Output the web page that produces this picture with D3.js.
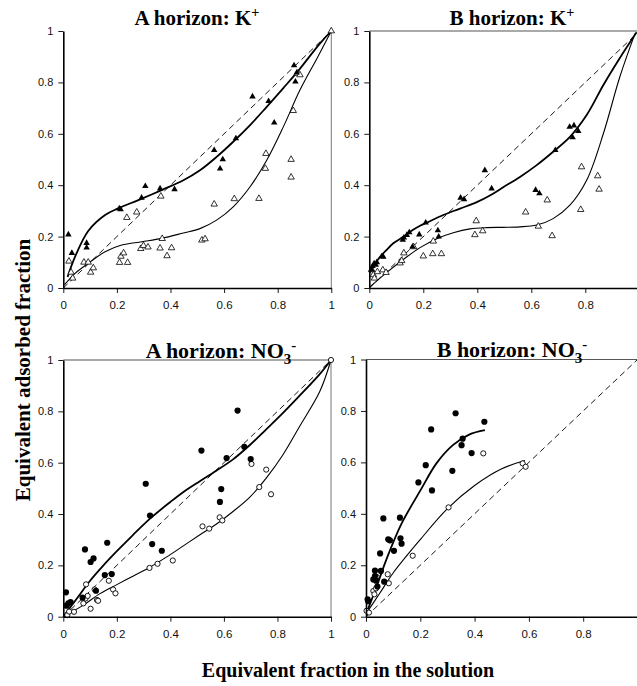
<!DOCTYPE html>
<html>
<head>
<meta charset="utf-8">
<script src="https://cdn.jsdelivr.net/npm/d3@7"></script>
<style>
body { margin: 0; background: #fff; }
svg { display: block; }
</style>
</head>
<body>
<div id="chart"></div>
<script>
// axis ticks
var ticks = [0, 0.2, 0.4, 0.6, 0.8, 1];
var tickLabels = ['0', '0.2', '0.4', '0.6', '0.8', '1'];

// panel titles
var titleText = ['A horizon: K', 'B horizon: K', 'A horizon: NO', 'B horizon: NO'];
var titleSub = ['', '', '3', '3'];
var titleSup = ['+', '+', '-', '-'];

// 1:1 reference line
var oneToOne = [[0, 0], [1, 1]];

// A horizon K+  (x = fraction in solution, y = adsorbed fraction)
var aKFilled = [[0.019,0.208],[0.032,0.136],[0.087,0.175],[0.087,0.157],[0.209,0.309],[0.214,0.306],
  [0.292,0.351],[0.306,0.396],[0.361,0.387],[0.415,0.384],[0.563,0.536],[0.585,0.464],[0.595,0.5],
  [0.644,0.582],[0.706,0.745],[0.766,0.727],[0.787,0.643],[0.861,0.866],[0.866,0.803],[0.871,0.838]];
var aKOpen = [[0.021,0.104],[0.029,0.061],[0.035,0.038],[0.077,0.1],[0.093,0.1],[0.102,0.061],[0.112,0.078],
  [0.21,0.099],[0.215,0.123],[0.225,0.136],[0.24,0.099],[0.237,0.274],[0.274,0.295],[0.289,0.153],
  [0.299,0.165],[0.316,0.159],[0.361,0.155],[0.364,0.357],[0.369,0.192],[0.387,0.125],[0.404,0.156],
  [0.517,0.186],[0.529,0.191],[0.563,0.326],[0.638,0.347],[0.73,0.348],[0.754,0.465],[0.756,0.523],
  [0.85,0.5],[0.85,0.431],[0.858,0.69],[0.874,0.835],[0.883,0.829],[1,1]];
var aKFitFilled = [[0.016,0.043],[0.044,0.122],[0.093,0.222],[0.156,0.284],[0.205,0.31],[0.28,0.342],
  [0.367,0.381],[0.448,0.419],[0.51,0.458],[0.572,0.51],[0.634,0.569],[0.697,0.634],[0.759,0.705],
  [0.821,0.778],[0.871,0.838],[0.958,0.952],[1,1]];
var aKFitOpen = [[0.004,0.012],[0.044,0.057],[0.093,0.096],[0.156,0.141],[0.218,0.167],[0.293,0.18],
  [0.367,0.193],[0.448,0.214],[0.51,0.231],[0.572,0.264],[0.634,0.316],[0.697,0.394],[0.759,0.497],
  [0.821,0.627],[0.883,0.77],[0.95,0.9],[1,1]];

// B horizon K+
var bKFilled = [[0.008,0.072],[0.012,0.085],[0.018,0.095],[0.024,0.09],[0.028,0.1],[0.046,0.123],[0.052,0.121],
  [0.124,0.187],[0.128,0.196],[0.139,0.206],[0.148,0.216],[0.16,0.161],[0.185,0.208],[0.209,0.254],
  [0.254,0.224],[0.257,0.2],[0.338,0.351],[0.351,0.345],[0.428,0.458],[0.453,0.387],[0.616,0.381],
  [0.63,0.368],[0.689,0.536],[0.742,0.627],[0.753,0.586],[0.758,0.632],[0.774,0.61]];
var bKOpen = [[0.009,0.071],[0.015,0.051],[0.019,0.038],[0.03,0.063],[0.05,0.07],[0.062,0.06],[0.114,0.097],
  [0.12,0.106],[0.128,0.136],[0.164,0.16],[0.2,0.124],[0.235,0.133],[0.237,0.182],[0.267,0.133],
  [0.391,0.207],[0.396,0.261],[0.42,0.222],[0.579,0.295],[0.626,0.24],[0.659,0.342],[0.677,0.203],
  [0.783,0.305],[0.786,0.471],[0.846,0.436],[0.851,0.384]];
var bKFitFilled = [[0.003,0.06],[0.033,0.112],[0.064,0.148],[0.089,0.174],[0.126,0.199],[0.151,0.219],
  [0.188,0.242],[0.213,0.254],[0.274,0.284],[0.336,0.309],[0.4,0.335],[0.45,0.362],[0.496,0.392],
  [0.558,0.432],[0.62,0.478],[0.681,0.53],[0.743,0.588],[0.805,0.673],[0.867,0.79],[0.928,0.895],[0.99,0.995]];
var bKFitOpen = [[0.003,0.005],[0.064,0.06],[0.126,0.111],[0.188,0.157],[0.25,0.192],[0.311,0.215],
  [0.373,0.23],[0.435,0.235],[0.496,0.236],[0.558,0.238],[0.62,0.245],[0.681,0.27],[0.743,0.322],
  [0.805,0.419],[0.867,0.601],[0.928,0.822],[0.984,0.99]];

// A horizon NO3-
var aNFilled = [[0.01,0.095],[0.012,0.043],[0.019,0.052],[0.027,0.057],[0.072,0.074],[0.081,0.262],
  [0.102,0.213],[0.113,0.227],[0.122,0.101],[0.155,0.162],[0.164,0.288],[0.181,0.166],[0.308,0.518],
  [0.324,0.394],[0.332,0.283],[0.368,0.257],[0.516,0.647],[0.585,0.447],[0.59,0.497],[0.61,0.618],
  [0.651,0.803],[0.676,0.662],[0.7,0.614]];
var aNOpen = [[0.015,0.006],[0.022,0.02],[0.04,0.019],[0.075,0.052],[0.083,0.071],[0.085,0.126],[0.091,0.081],
  [0.102,0.031],[0.117,0.106],[0.126,0.065],[0.13,0.062],[0.17,0.14],[0.186,0.106],[0.195,0.091],
  [0.322,0.19],[0.352,0.206],[0.409,0.219],[0.52,0.352],[0.545,0.343],[0.584,0.387],[0.594,0.375],
  [0.703,0.595],[0.732,0.505],[0.758,0.573],[0.776,0.477],[1,1]];
var aNFitFilled = [[0,0],[0.05,0.07],[0.1,0.14],[0.15,0.2],[0.2,0.255],[0.26,0.318],[0.324,0.382],
  [0.4,0.447],[0.45,0.487],[0.51,0.528],[0.57,0.568],[0.634,0.613],[0.696,0.668],[0.758,0.73],
  [0.82,0.793],[0.882,0.86],[0.958,0.945],[1,1]];
var aNFitOpen = [[0,0],[0.075,0.045],[0.137,0.09],[0.2,0.125],[0.26,0.158],[0.322,0.192],[0.385,0.232],
  [0.447,0.275],[0.509,0.318],[0.571,0.36],[0.634,0.41],[0.696,0.465],[0.758,0.54],[0.82,0.63],
  [0.882,0.74],[0.958,0.877],[1,1]];

// B horizon NO3-
var bNFilled = [[0.006,0.067],[0.008,0.06],[0.027,0.145],[0.033,0.179],[0.033,0.158],[0.037,0.14],
  [0.042,0.117],[0.052,0.246],[0.055,0.178],[0.064,0.382],[0.067,0.136],[0.082,0.301],[0.088,0.297],
  [0.103,0.256],[0.125,0.385],[0.127,0.305],[0.131,0.284],[0.193,0.522],[0.22,0.589],[0.24,0.728],
  [0.243,0.491],[0.318,0.567],[0.33,0.791],[0.352,0.667],[0.356,0.692],[0.389,0.636],[0.436,0.758]];
var bNOpen = [[0.002,0.023],[0.011,0.016],[0.027,0.1],[0.031,0.087],[0.037,0.11],[0.039,0.155],
  [0.08,0.165],[0.084,0.13],[0.172,0.237],[0.304,0.425],[0.432,0.635],[0.577,0.596],[0.588,0.583]];
var bNFitFilled = [[0.004,0.02],[0.04,0.12],[0.076,0.225],[0.13,0.36],[0.2,0.49],[0.26,0.597],
  [0.32,0.667],[0.38,0.708],[0.438,0.725]];
var bNFitOpen = [[0.002,0.015],[0.05,0.09],[0.1,0.17],[0.2,0.3],[0.3,0.42],[0.4,0.51],[0.5,0.575],
  [0.585,0.607]];

var chart_width = 637;
var chart_height = 686;
var serif = '"Liberation Serif", "Times New Roman", serif';
var sans = '"Liberation Sans", Arial, sans-serif';

var svg = d3.select('#chart')
  .append('svg')
  .attr('width', chart_width)
  .attr('height', chart_height);

// panel layout (pixels)
var panels = [
  { left: 63.3, right: 331.3, top: 31, bottom: 288, topBorder: false, shape: 'tri',
    filled: aKFilled, open: aKOpen, fitF: aKFitFilled, fitO: aKFitOpen, tx: 197, ty: 25, ts: 21 },
  { left: 369.3, right: 639.3, top: 31, bottom: 288, topBorder: true, shape: 'tri',
    filled: bKFilled, open: bKOpen, fitF: bKFitFilled, fitO: bKFitOpen, tx: 512, ty: 25, ts: 21 },
  { left: 63.3, right: 331, top: 360, bottom: 616.7, topBorder: true, shape: 'circle',
    filled: aNFilled, open: aNOpen, fitF: aNFitFilled, fitO: aNFitOpen, tx: 221, ty: 358, ts: 22 },
  { left: 366, right: 637.5, top: 359.5, bottom: 616.7, topBorder: true, shape: 'circle',
    filled: bNFilled, open: bNOpen, fitF: bNFitFilled, fitO: bNFitOpen, tx: 512, ty: 357, ts: 22 }
];

panels.forEach(function (p, i) {
  var x = d3.scaleLinear().domain([0, 1]).range([p.left, p.right]);
  var y = d3.scaleLinear().domain([0, 1]).range([p.bottom, p.top]);
  var g = svg.append('g');

  var line = d3.line()
    .x(function (d) { return x(d[0]); })
    .y(function (d) { return y(d[1]); });
  var smooth = d3.line()
    .x(function (d) { return x(d[0]); })
    .y(function (d) { return y(d[1]); })
    .curve(d3.curveCatmullRom.alpha(0.5));

  // plot area border (top / right)
  if (p.topBorder) {
    g.append('line')
      .attr('x1', x(0)).attr('x2', x(1)).attr('y1', y(1)).attr('y2', y(1))
      .attr('stroke', '#555').attr('stroke-width', 1.2);
  }
  g.append('line')
    .attr('x1', x(1)).attr('x2', x(1)).attr('y1', y(1)).attr('y2', y(0))
    .attr('stroke', '#777').attr('stroke-width', 1);

  // 1:1 line
  g.append('path')
    .datum(oneToOne)
    .attr('d', line)
    .attr('fill', 'none')
    .attr('stroke', '#000')
    .attr('stroke-width', 0.9)
    .attr('stroke-dasharray', '6,4');

  // fitted curves
  g.append('path')
    .datum(p.fitO)
    .attr('d', smooth)
    .attr('fill', 'none')
    .attr('stroke', '#000')
    .attr('stroke-width', 1.1);
  g.append('path')
    .datum(p.fitF)
    .attr('d', smooth)
    .attr('fill', 'none')
    .attr('stroke', '#000')
    .attr('stroke-width', 1.8);

  // markers
  if (p.shape === 'tri') {
    var tri = d3.symbol().type(d3.symbolTriangle).size(18);
    g.selectAll('.open')
      .data(p.open)
      .enter()
      .append('path')
      .attr('d', tri)
      .attr('transform', function (d) { return 'translate(' + x(d[0]) + ',' + y(d[1]) + ')'; })
      .attr('fill', '#fff')
      .attr('stroke', '#000')
      .attr('stroke-width', 0.8);
    g.selectAll('.filled')
      .data(p.filled)
      .enter()
      .append('path')
      .attr('d', tri)
      .attr('transform', function (d) { return 'translate(' + x(d[0]) + ',' + y(d[1]) + ')'; })
      .attr('fill', '#000');
  } else {
    g.selectAll('.open')
      .data(p.open)
      .enter()
      .append('circle')
      .attr('cx', function (d) { return x(d[0]); })
      .attr('cy', function (d) { return y(d[1]); })
      .attr('r', 2.6)
      .attr('fill', '#fff')
      .attr('stroke', '#000')
      .attr('stroke-width', 0.9);
    g.selectAll('.filled')
      .data(p.filled)
      .enter()
      .append('circle')
      .attr('cx', function (d) { return x(d[0]); })
      .attr('cy', function (d) { return y(d[1]); })
      .attr('r', 3.1)
      .attr('fill', '#000');
  }

  // axes
  var xTicks = ticks.filter(function (t) { return x(t) < chart_width - 4; });
  var xAxis = d3.axisBottom(x)
    .tickValues(xTicks)
    .tickFormat(function (d) { return tickLabels[ticks.indexOf(d)]; })
    .tickSize(5)
    .tickSizeOuter(0)
    .tickPadding(8);
  var yAxis = d3.axisLeft(y)
    .tickValues(ticks)
    .tickFormat(function (d) { return tickLabels[ticks.indexOf(d)]; })
    .tickSize(5)
    .tickSizeOuter(0)
    .tickPadding(5);

  var gx = g.append('g')
    .attr('transform', 'translate(0,' + y(0) + ')')
    .call(xAxis);
  var gy = g.append('g')
    .attr('transform', 'translate(' + x(0) + ',0)')
    .call(yAxis);

  [gx, gy].forEach(function (a) {
    a.select('.domain').attr('stroke', '#000').attr('stroke-width', 1.6);
    a.selectAll('.tick line').attr('stroke', '#000').attr('stroke-width', 0.9);
    a.selectAll('.tick text')
      .attr('fill', '#111')
      .style('font-family', sans);
  });
  gx.selectAll('.tick text').style('font-size', '11.5px');
  gy.selectAll('.tick text').style('font-size', '11px');

  // title
  var t = g.append('text')
    .attr('x', p.tx)
    .attr('y', p.ty)
    .attr('text-anchor', 'middle')
    .style('font-family', serif)
    .style('font-weight', 'bold')
    .style('font-size', p.ts + 'px');
  t.append('tspan').text(titleText[i]);
  if (titleSub[i]) {
    t.append('tspan')
      .attr('dy', p.ts * 0.25)
      .style('font-size', (p.ts * 0.68) + 'px')
      .text(titleSub[i]);
    t.append('tspan')
      .attr('dy', -p.ts * 0.62)
      .style('font-size', (p.ts * 0.68) + 'px')
      .text(titleSup[i]);
  } else {
    t.append('tspan')
      .attr('dy', -p.ts * 0.38)
      .style('font-size', (p.ts * 0.68) + 'px')
      .text(titleSup[i]);
  }
});

// shared axis titles
svg.append('text')
  .attr('transform', 'translate(30,370) rotate(-90)')
  .attr('text-anchor', 'middle')
  .style('font-family', serif)
  .style('font-weight', 'bold')
  .style('font-size', '21px')
  .text('Equivalent adsorbed fraction');

svg.append('text')
  .attr('x', 348)
  .attr('y', 677)
  .attr('text-anchor', 'middle')
  .style('font-family', serif)
  .style('font-weight', 'bold')
  .style('font-size', '20px')
  .text('Equivalent fraction in the solution');
</script>
</body>
</html>
